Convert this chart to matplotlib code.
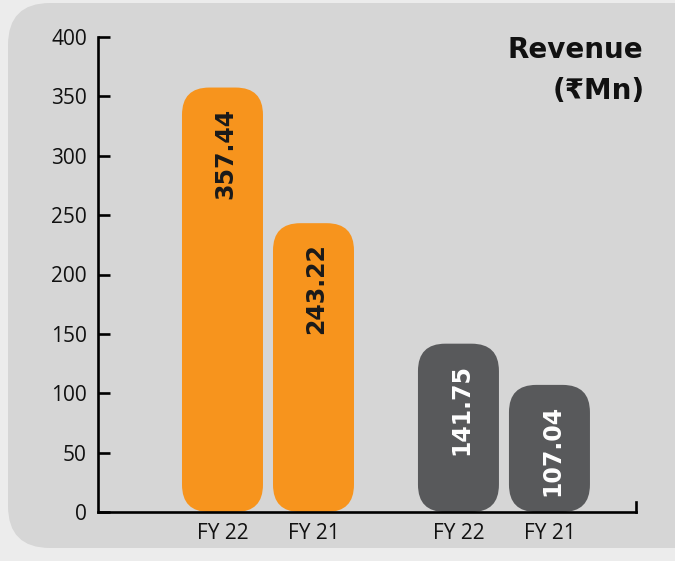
import matplotlib.pyplot as plt
from matplotlib.patches import FancyBboxPatch

# revenue in Rs million, two segments side by side
years = ['FY 22', 'FY 21', 'FY 22', 'FY 21']
revenue = [357.44, 243.22, 141.75, 107.04]
positions = [0, 1, 2.593, 3.593]
colors = ['#F7941D', '#F7941D', '#58595B', '#58595B']
label_colors = ['#1a1a1a', '#1a1a1a', '#ffffff', '#ffffff']
yticks = [0, 50, 100, 150, 200, 250, 300, 350, 400]

plt.rcParams['font.family'] = ['Open Sans', 'DejaVu Sans']

W, H = 6.75, 5.61
fig = plt.figure(figsize=(W, H), dpi=100, facecolor='#ececec')

# rounded grey panel behind the chart (inches, so the corners stay round)
panel = FancyBboxPatch((0.08, 0.13), 7.2, 5.45,
                       boxstyle='round,pad=0,rounding_size=0.42',
                       transform=fig.dpi_scale_trans,
                       facecolor='#d6d6d6', edgecolor='none', zorder=-5)
fig.patches.append(panel)

ax = fig.add_axes([98 / 675, 49 / 561, 538 / 675, 475 / 561])
ax.set_facecolor('none')
ax.set_xlim(-1.368, 4.544)
ax.set_ylim(0, 400)

width = 0.89
bars = ax.bar(positions, revenue, width=width, color=colors, alpha=0)

# replace the plain rectangles with pill-shaped ones
ax_w = W * 538 / 675
ax_h = H * 475 / 561
x_per_in = (4.544 + 1.368) / ax_w
y_per_in = 400 / ax_h
aspect = y_per_in / x_per_in
radius = 0.3
for bar, c in zip(bars, colors):
    x, y = bar.get_x(), bar.get_y()
    w, h = bar.get_width(), bar.get_height()
    p = FancyBboxPatch((x, y), w, h,
                       boxstyle=f'round,pad=0,rounding_size={radius}',
                       mutation_aspect=aspect,
                       facecolor=c, edgecolor='none', zorder=2)
    ax.add_patch(p)

for xpos, val, lc in zip(positions, revenue, label_colors):
    ax.text(xpos + 0.03, val - 17, f'{val:.2f}', rotation=90,
            ha='center', va='top', fontsize=17, fontweight='bold',
            family='DejaVu Sans', color=lc, zorder=3)

ax.spines['top'].set_visible(False)
ax.spines['left'].set_linewidth(1.9)
ax.spines['bottom'].set_linewidth(1.9)
ax.spines['right'].set_linewidth(1.9)
ax.spines['right'].set_bounds(0, 8.5)

ax.set_yticks(yticks)
ax.tick_params(axis='y', direction='in', length=8.5, width=1.9,
               labelsize=15, pad=8, labelcolor='#111111')
ax.set_xticks(positions)
ax.set_xticklabels(years)
ax.tick_params(axis='x', length=0, labelsize=15, pad=8,
               labelcolor='#111111')

fig.text(643 / 675, 1 - 50 / 561, 'Revenue', ha='right', va='center',
         fontsize=20, fontweight='bold', color='#111111',
         family='DejaVu Sans')
fig.text(645 / 675, 1 - 91 / 561, '(₹Mn)', ha='right', va='center',
         fontsize=20, fontweight='bold', color='#111111',
         family='DejaVu Sans')

fig.savefig('out.png', dpi=100, facecolor=fig.get_facecolor())
